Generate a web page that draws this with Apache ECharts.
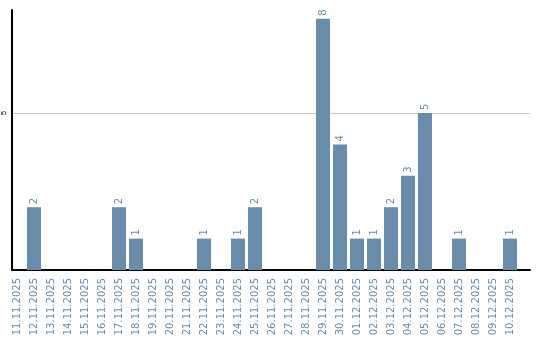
<!DOCTYPE html>
<html><head><meta charset="utf-8">
<script src="https://cdn.jsdelivr.net/npm/echarts@6/dist/echarts.min.js"></script>
<style>html,body{margin:0;padding:0;background:#fff}#c{width:540px;height:340px}</style>
</head><body><div id="c"></div>
<script>
const categories = ["11.11.2025","12.11.2025","13.11.2025","14.11.2025","15.11.2025","16.11.2025","17.11.2025","18.11.2025","19.11.2025","20.11.2025","21.11.2025","22.11.2025","23.11.2025","24.11.2025","25.11.2025","26.11.2025","27.11.2025","28.11.2025","29.11.2025","30.11.2025","01.12.2025","02.12.2025","03.12.2025","04.12.2025","05.12.2025","06.12.2025","07.12.2025","08.12.2025","09.12.2025","10.12.2025"];
const values = [0,2,0,0,0,0,2,1,0,0,0,1,0,1,2,0,0,0,8,4,1,1,2,3,5,0,1,0,0,1];
const yTicks = [5];
const yMax = 8.28;
const color = '#6a8cab';
const chart = echarts.init(document.getElementById('c'));
chart.setOption({
  animation:false,
  grid:[
    {left:8.5,right:21.5,top:10,bottom:70,containLabel:false},
    {left:11,right:10,top:10,bottom:70,containLabel:false}
  ],
  xAxis:[
    {type:'category',gridIndex:0,data:categories,
     axisLine:{show:false},axisTick:{show:false},
     axisLabel:{rotate:90,interval:0,color:color,fontSize:10,fontFamily:'DejaVu Sans',margin:8}},
    {type:'value',gridIndex:1,min:0,max:1,
     axisLine:{show:true,onZero:false,lineStyle:{color:'#000',width:2}},axisTick:{show:false},
     axisLabel:{show:false},splitLine:{show:false}}
  ],
  yAxis:[
    {type:'value',gridIndex:0,min:0,max:yMax,show:false,splitLine:{show:false}},
    {type:'value',gridIndex:1,min:0,max:yMax,interval:5,
     axisLine:{show:true,lineStyle:{color:'#000',width:2}},axisTick:{show:false},
     splitLine:{show:true,showMinLine:false,showMaxLine:false,lineStyle:{color:'#c8c8c8',width:1}},
     axisLabel:{showMinLabel:false,showMaxLabel:false,rotate:90,color:'#000',fontSize:8,margin:4,
       formatter:v=>yTicks.includes(v)?String(v):''}}
  ],
  series:[{type:'bar',xAxisIndex:0,yAxisIndex:0,data:values,barWidth:14,itemStyle:{color:color},
    label:{show:true,position:'top',rotate:90,align:'left',verticalAlign:'middle',distance:3,
      color:color,fontSize:10,fontFamily:'DejaVu Sans',formatter:p=>p.value?String(p.value):''}}]
});
</script></body></html>
